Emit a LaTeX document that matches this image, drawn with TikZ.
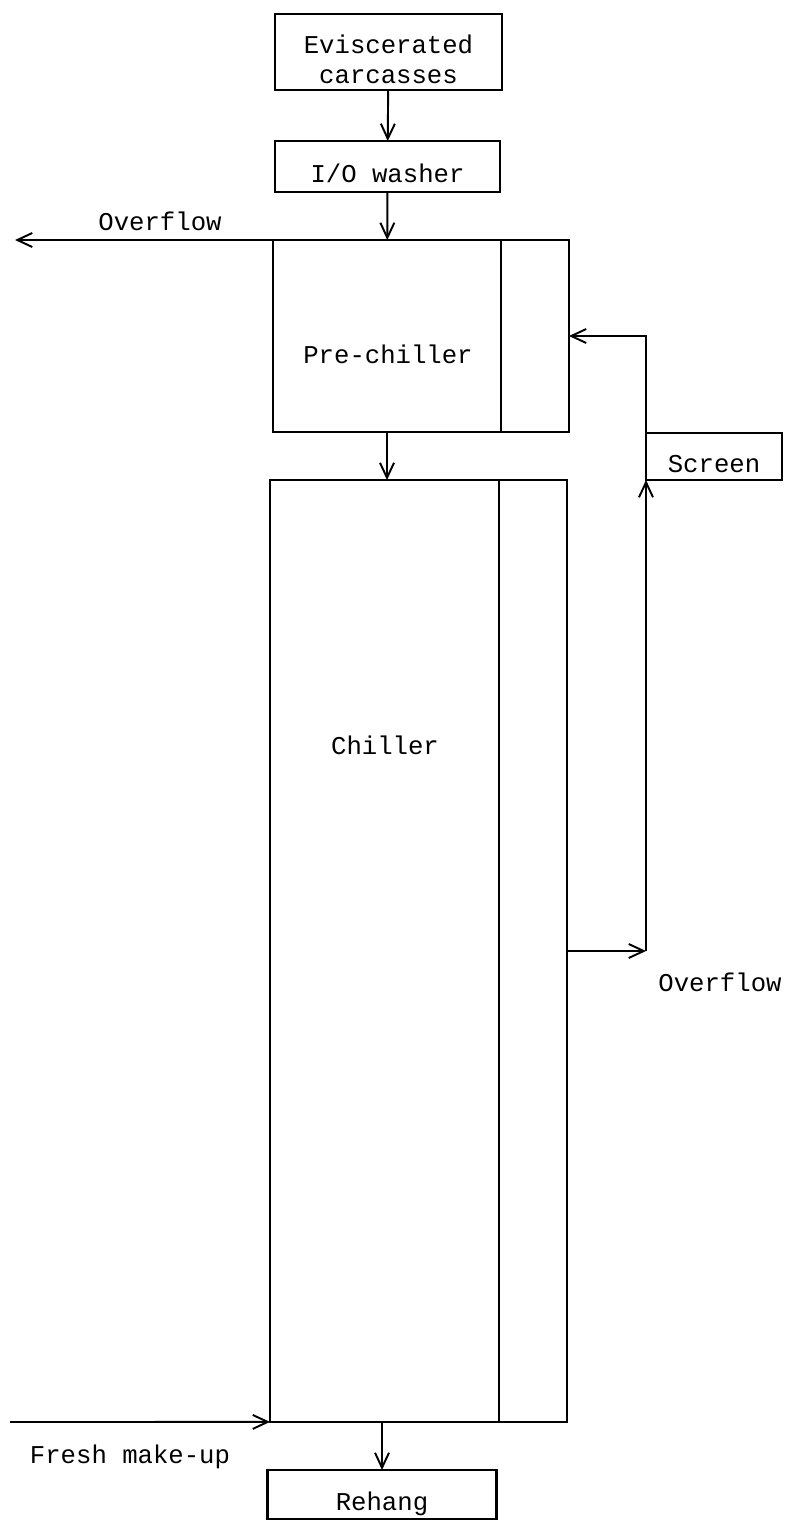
\documentclass[tikz,border=0pt]{standalone}
\usepackage{fontspec}
\setmonofont{Liberation Mono}
\usetikzlibrary{positioning, arrows.meta}

\begin{document}
\begin{tikzpicture}[
        x=0.02cm, y=-0.02cm,
        font=\ttfamily\fontsize{14.6}{17}\selectfont,
        box/.style={draw, rectangle, line width=1.2pt, outer sep=0pt, inner sep=0pt, align=center, text height=18pt, text depth=0pt},
        tank/.style={draw, rectangle, line width=1.2pt, outer sep=0pt, inner sep=0pt},
        arrow/.style={-{Straight Barb[length=0.3cm, width=0.28cm]}, line width=1.1pt}
    ]
    \useasboundingbox (0,0) rectangle (793,1532);

    % Define the blocks
    \node[box, minimum width=4.54cm, minimum height=1.52cm, text height=36pt] (evisc) at (388.5,52) {Eviscerated\\carcasses};
    \node[box, minimum width=4.5cm, minimum height=1.02cm] (washer) at (387.5,166.5) {I/O washer};
    \node[tank, minimum width=4.56cm, minimum height=3.84cm] (pre) at (387,336) {};
    \node[tank, minimum width=1.36cm, minimum height=3.84cm, right=0pt of pre] (preside) {};
    \node[tank, minimum width=4.58cm, minimum height=18.84cm] (chill) at (384.5,951) {};
    \node[tank, minimum width=1.36cm, minimum height=18.84cm, right=0pt of chill] (chillside) {};
    \node[box, minimum width=2.72cm, minimum height=0.94cm] (screen) at (714,456.5) {Screen};
    \node[box, minimum width=4.58cm, minimum height=0.98cm] (rehang) at (382,1494.5) {Rehang};

    % Labels
    \node (pretext) at (388,354) {Pre-chiller};
    \node (chilltext) at (385,745) {Chiller};
    \node (ovtop) at (160,221) {Overflow};
    \node (ovright) at (720,982) {Overflow};
    \node (fresh) at (130,1457) {Fresh make-up};

    % Free ends
    \coordinate (ovtip) at (15,240);
    \coordinate (riser) at (646,951);
    \coordinate (freshin) at (10,1422);

    % Draw the connecting arrows
    \draw[arrow] (evisc) -- (washer);
    \draw[arrow] (washer) -- (pre);
    \draw[arrow] (pre.north west) -- (ovtip);
    \draw[arrow] (pre.south) -- (pre.south |- chill.north);
    \draw[arrow] (chillside.east) -- (riser);
    \draw[arrow] (riser) -- (riser |- screen.south);
    \draw[arrow] (screen.north west) |- (preside.east);
    \draw[arrow] (freshin) -- (chill.south west);
    \draw[arrow] (rehang.north |- chill.south) -- (rehang.north);

\end{tikzpicture}
\end{document}
